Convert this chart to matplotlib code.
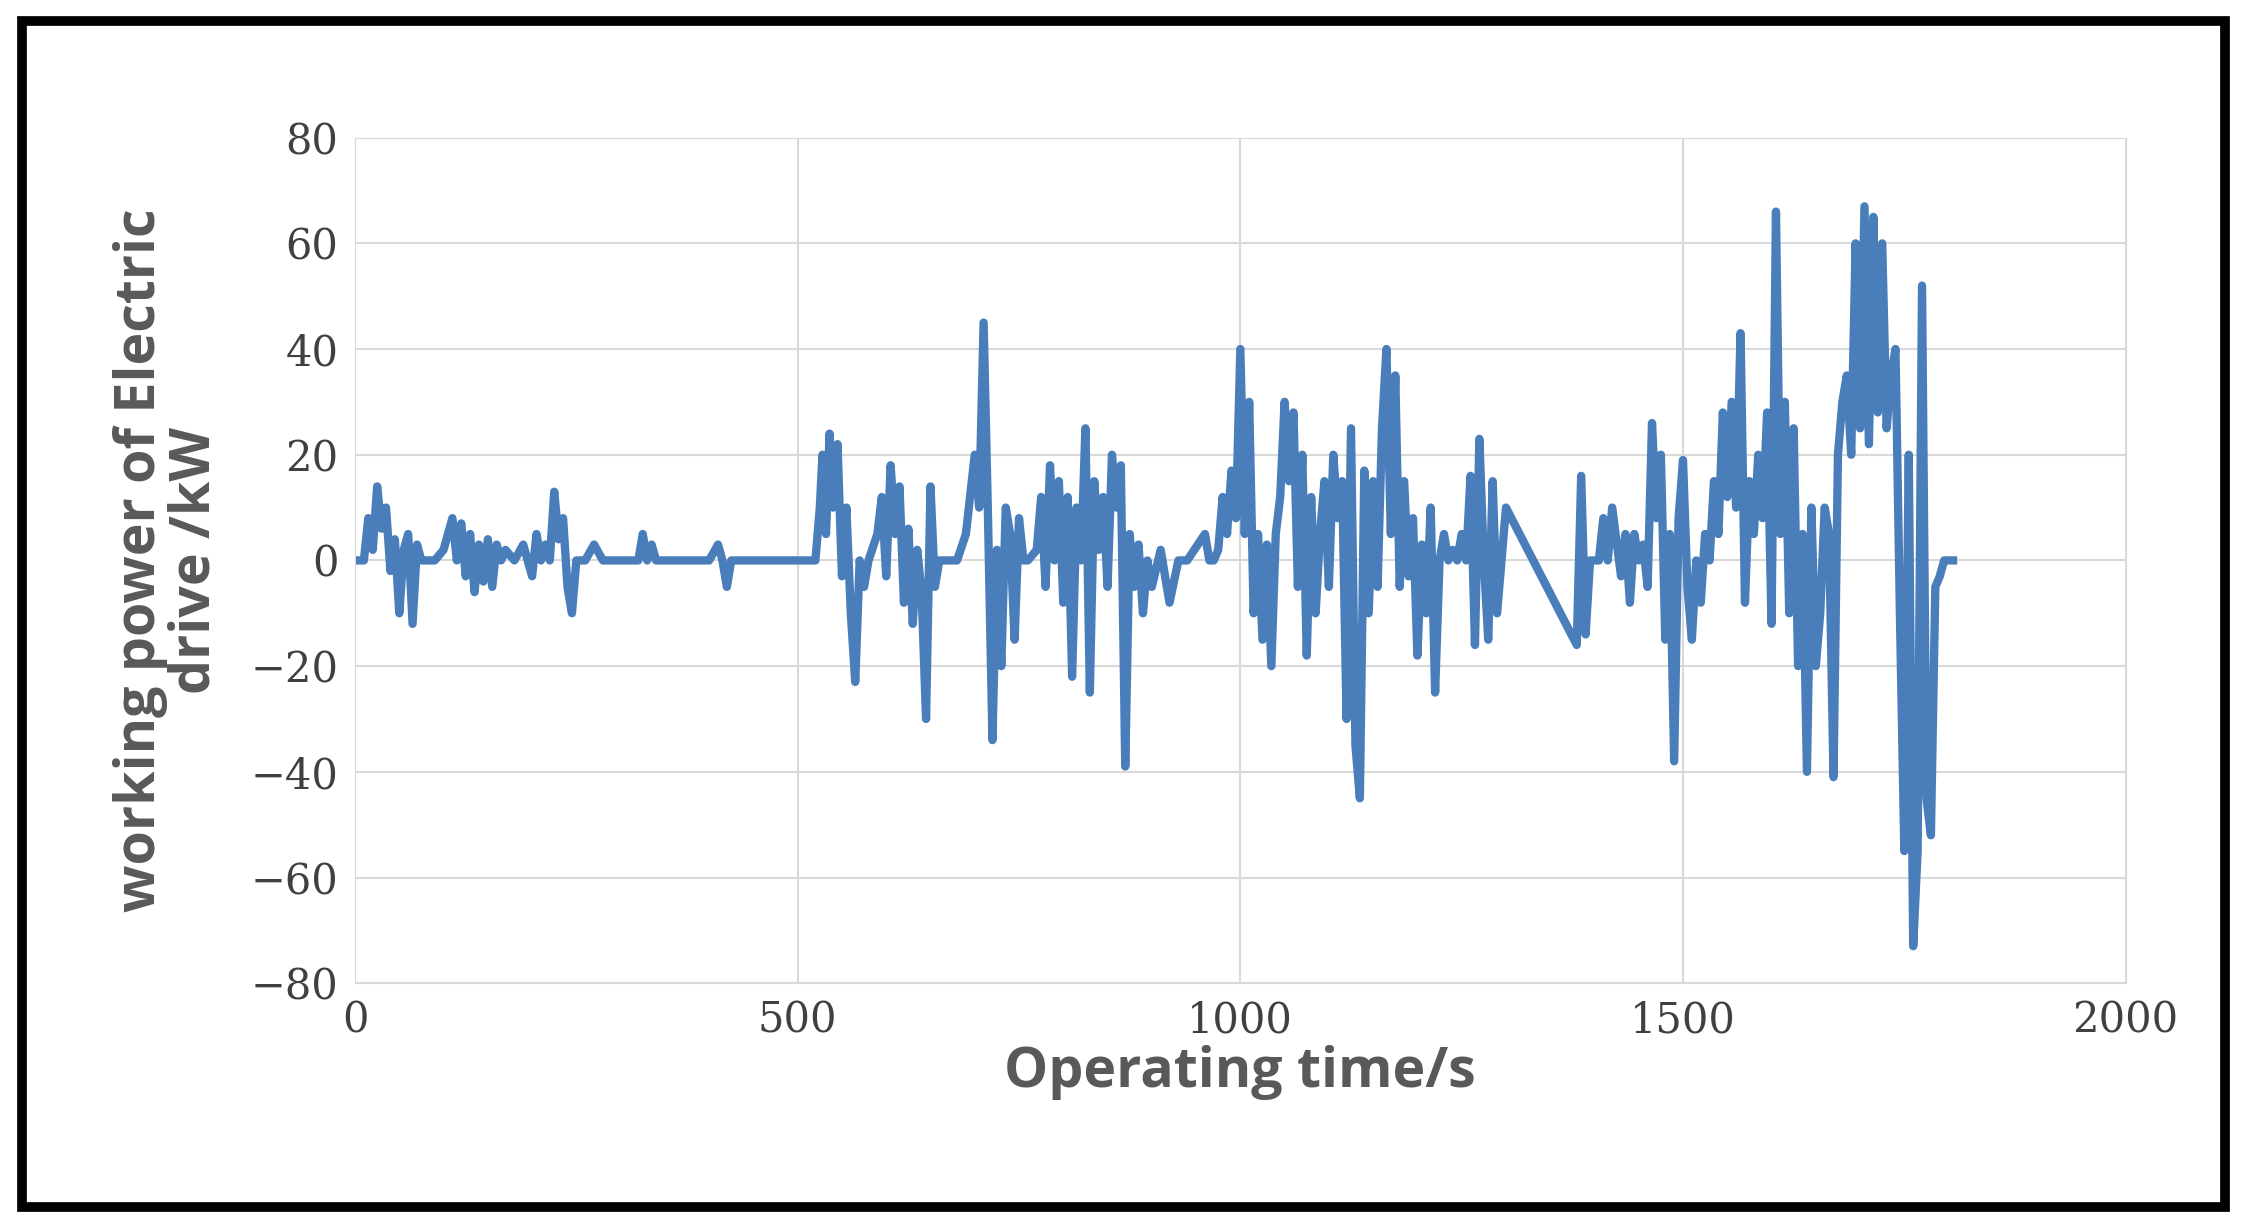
import matplotlib.pyplot as plt
from matplotlib.patches import Rectangle

# time (s) and electric drive power (kW)
time_s = [0, 10, 15, 20, 25, 30, 35, 40, 45, 50, 55, 60, 65, 70, 75, 80, 90, 100, 110, 115, 120,
          125, 130, 135, 140, 145, 150, 155, 160, 165, 170, 180, 190, 200, 205, 210, 215, 220, 225,
          230, 235, 240, 245, 250, 260, 270, 280, 290, 300, 320, 325, 330, 335, 340, 350, 400, 410,
          415, 420, 425, 430, 440, 520, 525, 528, 532, 536, 540, 545, 550, 555, 560, 565, 570, 575,
          580, 590, 595, 600, 605, 610, 615, 620, 625, 630, 635, 640, 645, 650, 655, 660, 670, 680,
          690, 700, 705, 710, 715, 720, 725, 730, 735, 740, 745, 750, 755, 760, 770, 775, 780, 785,
          790, 795, 800, 805, 810, 815, 820, 825, 830, 835, 840, 845, 850, 855, 860, 865, 870, 875,
          880, 885, 890, 895, 900, 910, 920, 930, 935, 940, 960, 965, 970, 975, 980, 985, 990, 995,
          1000, 1005, 1010, 1015, 1020, 1025, 1030, 1035, 1040, 1045, 1050, 1055, 1060, 1065, 1070,
          1075, 1080, 1085, 1090, 1095, 1100, 1105, 1110, 1115, 1120, 1125, 1130, 1135, 1140, 1145,
          1150, 1155, 1160, 1165, 1170, 1175, 1180, 1185, 1190, 1195, 1200, 1205, 1210, 1215, 1220,
          1225, 1230, 1235, 1240, 1245, 1250, 1255, 1260, 1265, 1270, 1275, 1280, 1285, 1290, 1300,
          1380, 1385, 1390, 1395, 1400, 1405, 1410, 1415, 1420, 1430, 1435, 1440, 1445, 1450, 1455,
          1460, 1465, 1470, 1475, 1480, 1485, 1490, 1495, 1500, 1505, 1510, 1515, 1520, 1525, 1530,
          1535, 1540, 1545, 1550, 1555, 1560, 1565, 1570, 1575, 1580, 1585, 1590, 1595, 1600, 1605,
          1610, 1615, 1620, 1625, 1630, 1635, 1640, 1645, 1650, 1655, 1660, 1665, 1670, 1675, 1680,
          1685, 1690, 1695, 1700, 1705, 1710, 1715, 1720, 1725, 1730, 1735, 1740, 1745, 1750, 1755,
          1760, 1765, 1770, 1775, 1780, 1785, 1790, 1795, 1800, 1805]
power_kw = [0, 0, 8, 2, 14, 6, 10, -2, 4, -10, 2, 5, -12, 3, 0, 0, 0, 2, 8, 0, 7, -3, 5, -6, 3, -4,
            4, -5, 3, 0, 2, 0, 3, -3, 5, 0, 3, 0, 13, 4, 8, -5, -10, 0, 0, 3, 0, 0, 0, 0, 5, 0, 3,
            0, 0, 0, 3, 0, -5, 0, 0, 0, 0, 10, 20, 5, 24, 10, 22, -3, 10, -10, -23, 0, -5, 0, 5, 12,
            -3, 18, 5, 14, -8, 6, -12, 2, -6, -30, 14, -5, 0, 0, 0, 5, 20, 10, 45, 8, -34, 2, -20,
            10, 5, -15, 8, 0, 0, 2, 12, -5, 18, 0, 15, -8, 12, -22, 10, 0, 25, -25, 15, 2, 12, -5,
            20, 10, 18, -39, 5, -5, 3, -10, 0, -5, 2, -8, 0, 0, 0, 5, 0, 0, 2, 12, 5, 17, 8, 40, 5,
            30, -10, 5, -15, 3, -20, 5, 12, 30, 15, 28, -5, 20, -18, 12, -10, 5, 15, -5, 20, 8, 15,
            -30, 25, -35, -45, 17, -10, 15, -5, 25, 40, 5, 35, -5, 15, -3, 8, -18, 3, -10, 10, -25,
            0, 5, 0, 2, 0, 5, 0, 16, -16, 23, 0, -15, 15, -10, 10, -16, 16, -14, 0, 0, 0, 8, 0, 10,
            -3, 5, -8, 5, 0, 3, -5, 26, 8, 20, -15, 5, -38, 8, 19, -5, -15, 0, -8, 5, 0, 15, 5,
            28, 12, 30, 10, 43, -8, 15, 5, 20, 8, 28, -12, 66, 5, 30, -10, 25, -20, 5, -40, 10, -20,
            -10, 10, 5, -41, 20, 30, 35, 20, 60, 25, 67, 22, 65, 28, 60, 25, 35, 40, -10, -55, 20,
            -73, -55, 52, -45, -52, -5, -3, 0, 0, 0]

fig = plt.figure(figsize=(22.47, 12.29), dpi=100)
fig.patches.append(Rectangle((0.01, 0.018), 0.98, 0.965, transform=fig.transFigure,
                             fill=False, edgecolor='black', linewidth=7))
ax = fig.add_axes([0.158, 0.2, 0.788, 0.688])
ax.plot(time_s, power_kw, color='#4a7ebb', linewidth=6, solid_joinstyle='round')
ax.set_xlim(0, 2000)
ax.set_ylim(-80, 80)
ax.set_xticks(range(0, 2001, 500))
ax.set_yticks(range(-80, 81, 20))
ax.grid(color='#d9d9d9', linewidth=1.5)
ax.set_axisbelow(True)
for s in ax.spines.values():
    s.set_color('#d9d9d9')
ax.tick_params(length=0, pad=12)
for lab in ax.get_xticklabels() + ax.get_yticklabels():
    lab.set_fontfamily('DejaVu Serif')
    lab.set_fontsize(30)
    lab.set_color('#404040')
ax.set_xlabel('Operating time/s', fontsize=40, fontweight='bold', color='#595959',
              family='Open Sans', labelpad=2)
ax.set_ylabel('working power of Electric\ndrive /kW', fontsize=40, fontweight='bold',
              color='#595959', family='Open Sans', labelpad=20, linespacing=1.0)
fig.savefig('out.png')
